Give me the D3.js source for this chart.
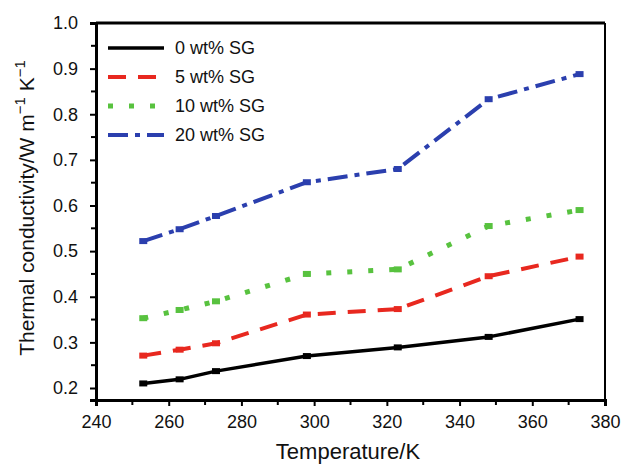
<!DOCTYPE html>
<html><head><meta charset="utf-8">
<script src="https://cdn.jsdelivr.net/npm/d3@7"></script>
<style>body{margin:0;background:#fff}svg{display:block}text{font-family:"Liberation Sans",Arial,sans-serif;fill:#111}</style>
</head><body><svg id="c" width="621" height="465"></svg>
<script>
const temps = [253, 263, 273, 298, 323, 348, 373];
const sg0  = [0.210, 0.219, 0.237, 0.270, 0.289, 0.312, 0.351];
const sg5  = [0.271, 0.284, 0.298, 0.361, 0.373, 0.445, 0.488];
const sg10 = [0.353, 0.371, 0.390, 0.450, 0.460, 0.555, 0.590];
const sg20 = [0.522, 0.548, 0.577, 0.651, 0.680, 0.833, 0.888];
const seriesNames = ["0 wt% SG", "5 wt% SG", "10 wt% SG", "20 wt% SG"];
const xTicks = [240, 260, 280, 300, 320, 340, 360, 380];
const yTicks = [0.2, 0.3, 0.4, 0.5, 0.6, 0.7, 0.8, 0.9, 1.0];

const styles = [
  {color:"#000000", width:3.5, dash:null},
  {color:"#e8281f", width:4, dash:"18,12"},
  {color:"#58c23f", width:5, dash:"5,16"},
  {color:"#2b3fae", width:4, dash:"20,7,5,7"}
];
const series = [sg0, sg5, sg10, sg20];

const svg = d3.select("#c");
const L=96, R=605, T=23, B=400;
const x = d3.scaleLinear().domain([240,380]).range([L,R]);
const y = d3.scaleLinear().domain([0.1737,1.0]).range([B,T]);

// frame
svg.append("line").attr("x1",L).attr("x2",R).attr("y1",T).attr("y2",T).attr("stroke","#000").attr("stroke-width",3);
svg.append("line").attr("x1",R).attr("x2",R).attr("y1",T).attr("y2",B).attr("stroke","#000").attr("stroke-width",2);

// axes
const xAxis = d3.axisBottom(x).tickValues(xTicks).tickSize(6).tickPadding(9).tickFormat(d3.format("d"));
const gx = svg.append("g").attr("transform",`translate(0,${B})`).call(xAxis);
const yAxis = d3.axisLeft(y).tickValues(yTicks).tickSize(6).tickPadding(12).tickFormat(d3.format(".1f"));
const gy = svg.append("g").attr("transform",`translate(${L},0)`).call(yAxis);
[gx,gy].forEach(g=>{
  g.select(".domain").attr("stroke","#000").attr("stroke-width",3);
  g.selectAll(".tick line").attr("stroke","#000").attr("stroke-width",2);
  g.selectAll(".tick text").attr("font-size",18).attr("fill","#111").style("font-family","Liberation Sans, Arial, sans-serif");
});
// minor ticks
const xMinor = d3.range(250,380,20);
svg.append("g").selectAll("line").data(xMinor).join("line")
  .attr("x1",d=>x(d)).attr("x2",d=>x(d)).attr("y1",B).attr("y2",B+5).attr("stroke","#000").attr("stroke-width",2);
const yMinor = d3.range(0.25,1.0,0.1);
svg.append("g").selectAll("line").data(yMinor).join("line")
  .attr("y1",d=>y(d)).attr("y2",d=>y(d)).attr("x1",L).attr("x2",L-5).attr("stroke","#000").attr("stroke-width",2);

// lines
const line = d3.line().x((d,i)=>x(temps[i])).y(d=>y(d));
series.forEach((s,k)=>{
  const st = styles[k];
  svg.append("path").datum(s).attr("d",line).attr("fill","none")
    .attr("stroke",st.color).attr("stroke-width",st.width)
    .attr("stroke-dasharray",st.dash).attr("stroke-linejoin","round");
  svg.append("g").selectAll("rect").data(s).join("rect")
    .attr("x",(d,i)=>x(temps[i])-4).attr("y",d=>y(d)-3)
    .attr("width",8).attr("height",6).attr("fill",st.color);
});

// legend
const lg = svg.append("g");
seriesNames.forEach((n,k)=>{
  const st = styles[k];
  const yy = 48 + k*29;
  lg.append("line").attr("x1",108).attr("x2",164).attr("y1",yy).attr("y2",yy)
    .attr("stroke",st.color).attr("stroke-width",st.width).attr("stroke-dasharray",st.dash);
  lg.append("text").attr("x",175).attr("y",yy+6).attr("font-size",18).text(n);
});

// axis titles
svg.append("text").attr("x",348).attr("y",459).attr("text-anchor","middle").attr("font-size",22).text("Temperature/K");
const yl = svg.append("text").attr("transform","translate(34,208) rotate(-90)").attr("text-anchor","middle").attr("font-size",21);
yl.append("tspan").text("Thermal conductivity/W m");
yl.append("tspan").attr("dy",-9).attr("font-size",15).text("\u22121");
yl.append("tspan").attr("dy",9).text(" K");
yl.append("tspan").attr("dy",-9).attr("font-size",15).text("\u22121");
</script></body></html>
